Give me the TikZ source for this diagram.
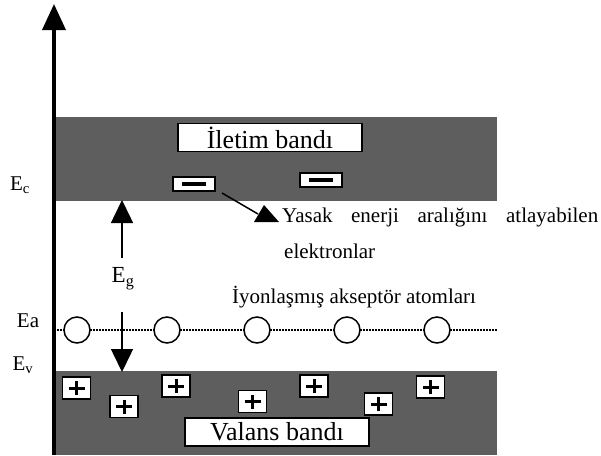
\documentclass[tikz,border=0pt]{standalone}
\usepackage{fontspec}
\setmainfont{Liberation Serif}
\usetikzlibrary{arrows.meta}
\tikzset{
 bandfill/.style={fill=black!63},
 bandlabel/.style={draw, line width=1.6pt, fill=white, minimum width=184pt, minimum height=28pt, inner sep=0pt, font=\fontsize{26}{28}\selectfont},
 minusbox/.style={draw, line width=1.4pt, fill=white, minimum width=42pt, minimum height=14pt, inner sep=0pt},
 plusbox/.style={draw, line width=1.2pt, fill=white, minimum width=28pt, minimum height=22pt, inner sep=0pt},
 atom/.style={circle, draw, line width=1.5pt, fill=white, minimum size=26pt, inner sep=0pt},
 lbl/.style={font=\fontsize{21}{23}\selectfont, inner sep=0pt},
 txt/.style={font=\fontsize{21}{23}\selectfont, inner sep=0pt},
 gaparrow/.style={line width=1.5pt, -{Triangle[width=22pt,length=23pt]}},
}
\begin{document}
\begin{tikzpicture}[x=1pt,y=-1pt]
\useasboundingbox (0,0) rectangle (601,455);
% bands
\fill[bandfill] (56,117) rectangle (497,201);
\fill[bandfill] (56,371) rectangle (497,455);
% axis
\coordinate (axb) at (54,455);
\coordinate (axt) at (54,4);
\draw[line width=3.6pt, -{Triangle[width=23pt,length=26pt]}] (axb) -- (axt);
% level labels
\node[lbl] (ec) at (20,185) {E\textsubscript{c}};
\node[lbl] (ea) at (28,321) {Ea};
\node[lbl] (ev) at (23,365) {E\textsubscript{v}};
% band labels
\node[bandlabel] (cb) at (270,137.5) {İletim bandı};
\node[bandlabel] (vb) at (277,432) {Valans bandı};
% electrons
\node[minusbox] (m1) at (194,184) {};
\node[minusbox] (m2) at (321,180) {};
\foreach \m in {m1,m2}{\fill (\m.center) +(-12,-2) rectangle +(12,2);}
% arrow to text
\coordinate (ys) at (222,193);
\coordinate (ye) at (258,214);
\draw[line width=1.5pt] (ys) -- (ye);
\fill (254,222) -- (264,205) -- (279,222) -- cycle;
\node[txt, anchor=base west] (yasak) at (282,222) {\makebox[316pt][s]{Yasak enerji aralığını atlayabilen}};
\node[txt, anchor=base west] (elek) at (284,258) {elektronlar};
% Eg
\node[font=\fontsize{23}{25}\selectfont, inner sep=1pt] (eg) at (123,279) {E\textsubscript{g}};
\coordinate (egu1) at (122,258);
\coordinate (egu2) at (122,200);
\coordinate (egd1) at (122,312);
\coordinate (egd2) at (122,372);
\draw[gaparrow] (egu1) -- (egu2);
% acceptor level
\node[txt, anchor=base west] (iyon) at (232,303) {İyonlaşmış akseptör atomları};
\coordinate (dl) at (57,330);
\coordinate (dr) at (497,330);
\draw[line width=1.6pt, dash pattern=on 1.6pt off 1.4pt] (dl) -- (dr);
\draw[gaparrow] (egd1) -- (egd2);
\foreach \i/\x in {1/77,2/167,3/257,4/347,5/437}{\node[atom] (a\i) at (\x,330) {};}
% holes
\foreach \i/\x/\y in {1/76.5/388, 2/124/406.5, 3/176/386, 4/252.5/401.5, 5/314/386, 6/378.5/404, 7/430.5/387}{
 \node[plusbox] (p\i) at (\x,\y) {};
 \draw[line width=3pt] (p\i.center) +(-8,0) -- +(8,0);
 \draw[line width=3pt] (p\i.center) +(0,-7) -- +(0,7);
}
\end{tikzpicture}
\end{document}
